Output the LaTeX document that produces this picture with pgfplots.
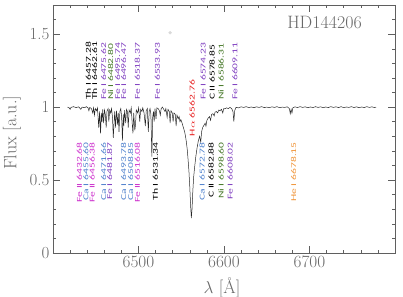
\documentclass[border=0pt]{standalone}
\usepackage{graphicx}
\usepackage{pgfplots}
\pgfplotsset{compat=1.18}
\usepackage{fontspec}
\newfontfamily\labfont{Carlito}
\definecolor{axgray}{RGB}{95,95,95}
\definecolor{txtgray}{RGB}{105,105,105}
\definecolor{feone}{RGB}{128,64,192}
\definecolor{fetwo}{RGB}{205,50,205}
\definecolor{caone}{RGB}{80,130,205}
\definecolor{nione}{RGB}{70,120,40}
\definecolor{heone}{RGB}{240,150,60}
\definecolor{halpha}{RGB}{230,30,30}
\newcommand{\lt}[1]{\scalebox{1.55}[1]{#1}}
\begin{document}
\begin{tikzpicture}
\useasboundingbox (-53bp,-44bp) rectangle (350bp,253bp);
\begin{axis}[
  scale only axis, width=342bp, height=248bp,
  xmin=6400, xmax=6800, ymin=0, ymax=1.7,
  xtick={6500,6600,6700}, minor xtick={6400,6420,...,6800},
  ytick={0,0.5,1,1.5}, minor ytick={0,0.1,...,1.7},
  yticklabels={0,0.5,1,1.5},
  /pgf/number format/1000 sep={},
  major tick length=7bp, minor tick length=3.5bp,
  axis line style={axgray, line width=0.6pt},
  every tick/.style={axgray, line width=0.5pt},
  tick label style={font=\fontsize{17}{20}\selectfont, text=txtgray},
  label style={font=\fontsize{18}{21}\selectfont, text=txtgray},
  xlabel={$\lambda$ [\AA]},
  ylabel={Flux [a.u.]},
  x label style={at={(axis description cs:0.494,-0.141)}, anchor=center},
  y label style={at={(axis description cs:-0.12,0.484)}, anchor=center},
  clip=false,
]
\addplot[black!85, line width=0.5pt] coordinates {
(6417,1.0)(6419,0.995)(6420,0.985)(6421,0.998)(6424,1.003)(6427,0.997)(6430,1.002)
(6432.5,0.985)(6434,1.0)(6437,0.996)(6439,1.003)(6441,0.995)(6442,0.975)(6443,0.998)
(6445,0.99)(6446.5,0.96)(6447.5,0.995)(6448.5,0.945)(6449.5,0.99)(6451,0.975)(6452,0.995)
(6453.5,0.86)(6454.5,0.97)(6455.6,0.82)(6456.6,0.96)(6457.3,0.9)(6458.2,0.985)(6459.2,0.89)
(6460.2,0.98)(6461.2,0.95)(6462.2,0.86)(6463.2,0.975)(6464.5,0.99)(6465.3,0.9)(6466.3,0.98)
(6467.5,0.96)(6468.5,0.99)(6469.6,0.93)(6470.5,0.79)(6471.5,0.9)(6472.2,0.97)(6473.2,0.86)
(6474.2,0.975)(6475.6,0.88)(6476.3,0.96)(6477.2,0.83)(6478.2,0.97)(6479.3,0.99)(6480.3,0.93)
(6481.2,0.77)(6482.2,0.95)(6482.8,0.87)(6483.8,0.98)(6485,0.89)(6486,0.985)(6487,0.97)
(6488,0.86)(6489,0.98)(6490.5,0.96)(6491.5,0.995)(6492.5,0.9)(6493.5,0.82)(6494.4,0.96)
(6495.7,0.84)(6496.5,0.88)(6497.4,0.98)(6499,0.96)(6500.2,0.995)(6501.5,0.9)(6502.5,0.985)
(6504,0.97)(6505,0.995)(6506.5,0.96)(6508,0.87)(6509,0.975)(6510.3,0.99)(6511.5,0.83)
(6512.5,0.97)(6513.5,0.99)(6514.5,0.95)(6515.6,0.66)(6516.6,0.93)(6517.5,0.97)(6518.3,0.9)
(6519.3,0.99)(6520.5,0.92)(6521.5,0.995)(6523,0.99)(6524.5,0.975)(6525.5,0.945)(6526.5,0.99)
(6528,1.0)(6529.5,0.985)(6531,0.97)(6532,0.99)(6533.5,0.93)(6534.5,0.985)(6536,0.97)
(6537,0.89)(6538,0.975)(6539.5,0.96)(6540.5,0.9)(6541.5,0.96)(6543,0.95)(6544,0.87)
(6545,0.945)(6546.5,0.92)(6547.5,0.935)(6548.5,0.9)(6549.5,0.915)(6551,0.89)(6552.5,0.86)
(6554,0.83)(6555,0.8)(6556,0.76)(6557,0.71)(6558,0.64)(6559,0.56)(6560,0.45)(6561,0.32)
(6561.8,0.24)(6562.6,0.3)(6563.5,0.42)(6564.5,0.52)(6565.5,0.58)(6567,0.66)(6568.5,0.72)
(6570,0.77)(6571.5,0.8)(6572.8,0.76)(6573.8,0.83)(6575,0.86)(6576.5,0.875)(6578,0.89)
(6578.9,0.87)(6580,0.91)(6581.5,0.925)(6583,0.935)(6584.3,0.91)(6585.5,0.95)(6587,0.955)
(6588.5,0.94)(6589.5,0.965)(6591,0.97)(6592.5,0.96)(6594,0.98)(6595.5,0.975)(6597,0.985)
(6598.6,0.96)(6599.6,0.99)(6601,0.988)(6603,0.995)(6605,0.99)(6607,0.998)(6609,0.99)
(6610.5,0.97)(6611.5,0.9)(6612.5,0.975)(6614,0.998)(6617,0.995)(6620,1.002)(6623,0.998)
(6626,1.003)(6629,0.997)(6632,1.001)(6635,0.996)(6638,1.002)(6641,0.998)(6644,1.003)
(6647,0.997)(6650,1.0)(6653,0.996)(6656,1.002)(6659,0.998)(6662,1.003)(6665,0.996)
(6668,1.0)(6671,0.998)(6674,1.002)(6676.5,0.99)(6677.5,0.955)(6678.5,0.985)(6679.5,0.96)
(6680.5,0.995)(6683,1.002)(6686,0.997)(6689,1.003)(6692,0.998)(6695,1.002)(6698,0.996)
(6701,1.001)(6704,0.997)(6707,1.003)(6710,0.998)(6713,1.002)(6716,0.996)(6719,1.001)
(6722,0.997)(6725,1.003)(6728,0.998)(6731,1.002)(6734,0.997)(6737,1.003)(6740,0.996)
(6743,1.001)(6746,0.998)(6749,1.003)(6752,0.997)(6755,1.002)(6758,0.996)(6761,1.001)
(6764,0.997)(6767,1.003)(6770,0.998)(6773,1.002)(6776,0.997)(6778,1.0)
};
\addplot[only marks, mark=*, mark size=1.5pt, color=black!15] coordinates {(6537,1.51)};
\tikzset{lab/.style={font=\labfont\fontsize{7.5}{9}\selectfont, rotate=90, inner sep=0pt}}
% upper labels
\node[lab, anchor=west, text=black] at (axis cs:6441.2,1.048) {\lt{Th I 6457.28}};
\node[lab, anchor=west, text=black] at (axis cs:6448.6,1.048) {\lt{Th I 6462.61}};
\node[lab, anchor=west, text=feone] at (axis cs:6459.3,1.048) {\lt{Fe I 6475.62}};
\node[lab, anchor=west, text=nione] at (axis cs:6467.4,1.048) {\lt{Ni I 6482.80}};
\node[lab, anchor=west, text=feone] at (axis cs:6475.6,1.048) {\lt{Fe I 6495.74}};
\node[lab, anchor=west, text=feone] at (axis cs:6482.6,1.048) {\lt{Fe I 6496.47}};
\node[lab, anchor=west, text=feone] at (axis cs:6498.8,1.048) {\lt{Fe I 6518.37}};
\node[lab, anchor=west, text=feone] at (axis cs:6522.1,1.048) {\lt{Fe I 6533.93}};
\node[lab, anchor=west, text=halpha] at (axis cs:6562.8,0.80) {\lt{H$\alpha$ 6562.76}};
\node[lab, anchor=west, text=feone] at (axis cs:6575.6,1.048) {\lt{Fe I 6574.23}};
\node[lab, anchor=west, text=black] at (axis cs:6586.0,1.048) {\lt{C II 6578.85}};
\node[lab, anchor=west, text=nione] at (axis cs:6596.5,1.048) {\lt{Ni I 6586.31}};
\node[lab, anchor=west, text=feone] at (axis cs:6612.8,1.048) {\lt{Fe I 6609.11}};
% lower labels
\node[lab, anchor=east, text=fetwo] at (axis cs:6430.8,0.76) {\lt{Fe II 6432.68}};
\node[lab, anchor=east, text=caone] at (axis cs:6438.4,0.76) {\lt{Ca I 6455.60}};
\node[lab, anchor=east, text=fetwo] at (axis cs:6445.8,0.76) {\lt{Fe II 6456.38}};
\node[lab, anchor=east, text=caone] at (axis cs:6459.3,0.76) {\lt{Ca I 6471.66}};
\node[lab, anchor=east, text=feone] at (axis cs:6466.3,0.76) {\lt{Fe I 6481.87}};
\node[lab, anchor=east, text=caone] at (axis cs:6482.6,0.76) {\lt{Ca I 6493.78}};
\node[lab, anchor=east, text=caone] at (axis cs:6490.7,0.76) {\lt{Ca I 6508.85}};
\node[lab, anchor=east, text=fetwo] at (axis cs:6498.8,0.76) {\lt{Fe II 6516.08}};
\node[lab, anchor=east, text=black] at (axis cs:6519.8,0.76) {\lt{Th I 6531.34}};
\node[lab, anchor=east, text=caone] at (axis cs:6574.4,0.76) {\lt{Ca I 6572.78}};
\node[lab, anchor=east, text=black] at (axis cs:6584.9,0.76) {\lt{C II 6582.88}};
\node[lab, anchor=east, text=nione] at (axis cs:6596.5,0.76) {\lt{Ni I 6598.60}};
\node[lab, anchor=east, text=feone] at (axis cs:6607.0,0.76) {\lt{Fe I 6608.02}};
\node[lab, anchor=east, text=heone] at (axis cs:6681.4,0.76) {\lt{He I 6678.15}};
\node[anchor=east, inner sep=0pt, font=\fontsize{18}{21}\selectfont, text=txtgray] at (rel axis cs:0.9035,0.931) {HD144206};
\end{axis}
\end{tikzpicture}
\end{document}
